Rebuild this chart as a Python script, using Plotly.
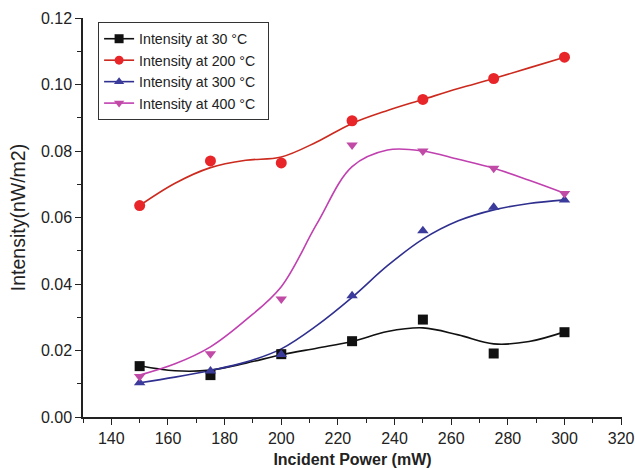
import plotly.graph_objects as go

power = [150, 175, 200, 225, 250, 275, 300]
i30 = [0.0153, 0.0126, 0.0189, 0.0228, 0.0293, 0.0191, 0.0255]
i200 = [0.0636, 0.0770, 0.0764, 0.0891, 0.0955, 0.1018, 0.1082]
i300 = [0.0103, 0.0138, 0.0188, 0.0365, 0.0560, 0.0631, 0.0653]
i400 = [0.0122, 0.0190, 0.0355, 0.0818, 0.0800, 0.0748, 0.0672]

fit_x = [150, 162.5, 175, 187.5, 200, 212.5, 225, 237.5, 250, 262.5, 275, 287.5, 300]
fit30 = [0.0154, 0.0139, 0.0141, 0.0162, 0.0187, 0.0207, 0.0227, 0.0257, 0.0268, 0.0247, 0.0220, 0.0227, 0.0256]
fit200 = [0.0636, 0.0703, 0.0750, 0.0772, 0.0782, 0.0827, 0.0883, 0.0922, 0.0955, 0.0988, 0.1018, 0.1050, 0.1082]
fit300 = [0.0103, 0.0120, 0.0140, 0.0165, 0.0205, 0.0275, 0.0360, 0.0455, 0.0535, 0.0590, 0.0623, 0.0642, 0.0653]
fit400 = [0.0126, 0.0160, 0.0211, 0.0292, 0.0392, 0.0580, 0.0753, 0.0803, 0.0800, 0.0775, 0.0748, 0.0712, 0.0673]

names = ["Intensity at 30 \u00b0C", "Intensity at 200 \u00b0C", "Intensity at 300 \u00b0C", "Intensity at 400 \u00b0C"]
mcolors = ["#111111", "#e8262a", "#3b3b9c", "#c04aa6"]
lcolors = ["#111111", "#cc2a1e", "#2f2f8f", "#c040b0"]
symbols = ["square", "circle", "triangle-up", "triangle-down"]
data = [i30, i200, i300, i400]
fits = [fit30, fit200, fit300, fit400]

fig = go.Figure()
for k in range(4):
    fig.add_trace(go.Scatter(x=fit_x, y=fits[k], mode="lines",
                             line=dict(color=lcolors[k], width=1.6, shape="spline", smoothing=1.0),
                             showlegend=False, hoverinfo="skip"))
for k in range(4):
    fig.add_trace(go.Scatter(x=power, y=data[k], mode="markers",
                             marker=dict(symbol=symbols[k], color=mcolors[k], size=10 if k != 1 else 11),
                             showlegend=False))
for k in range(4):
    fig.add_trace(go.Scatter(x=[None], y=[None], mode="lines+markers", name=names[k] + "  ",
                             line=dict(color=lcolors[k], width=1.6),
                             marker=dict(symbol=symbols[k], color=mcolors[k], size=9)))

font_family = "Liberation Sans, Arial, sans-serif"
fig.update_layout(
    width=635, height=468,
    margin=dict(l=83, r=13, t=18, b=51, autoexpand=False),
    paper_bgcolor="white", plot_bgcolor="white",
    font=dict(family=font_family, size=16, color="#222222"),
    legend=dict(x=0.028, y=0.99, xanchor="left", yanchor="top",
                bordercolor="#333333", borderwidth=1, bgcolor="white",
                font=dict(size=14.2), itemwidth=30, tracegroupgap=0),
    xaxis=dict(range=[130, 320.3], tickvals=[140, 160, 180, 200, 220, 240, 260, 280, 300, 320],
               automargin=False, ticklabeloverflow="allow",
               showgrid=False, zeroline=False, showline=True, linecolor="#222222", linewidth=1.5,
               ticks="outside", ticklen=6, tickwidth=1.3, tickcolor="#222222",
               minor=dict(dtick=10, tick0=130, ticks="outside", ticklen=4, tickcolor="#222222", tickwidth=1.2),
               title=dict(text="<b>Incident Power (mW)</b>", font=dict(size=16), standoff=8)),
    yaxis=dict(range=[0, 0.12], tickvals=[0, 0.02, 0.04, 0.06, 0.08, 0.10, 0.12], tickformat=".2f",
               automargin=False,
               showgrid=False, zeroline=False, showline=True, linecolor="#222222", linewidth=1.5,
               ticks="outside", ticklen=6, tickwidth=1.3, tickcolor="#222222",
               minor=dict(dtick=0.01, tick0=0, ticks="outside", ticklen=4, tickcolor="#222222", tickwidth=1.2),
               title=dict(text="Intensity(nW/m2)", font=dict(size=19.5), standoff=10)),
)
fig.write_html("out.html")
